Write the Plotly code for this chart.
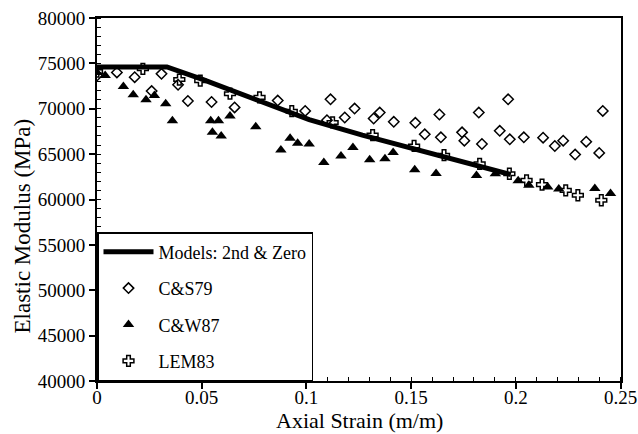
import plotly.graph_objects as go

# Model line: Models 2nd & Zero
model_x = [0.0, 0.0334, 0.0507, 0.076, 0.1013, 0.1267, 0.152, 0.1773, 0.1976]
model_y = [74600, 74600, 73200, 71000, 68800, 67100, 65500, 64000, 62750]

# C&S79 (open diamonds)
cs79_x = [0.0, 0.0095, 0.018, 0.0261, 0.0308, 0.0387, 0.0434, 0.0547, 0.0657, 0.0863,
          0.0994, 0.1098, 0.1115, 0.1183, 0.1230, 0.1321, 0.1350, 0.1417, 0.1520, 0.1565,
          0.1635, 0.1642, 0.1743, 0.1754, 0.1823, 0.1838, 0.1923, 0.1963, 0.1971, 0.2038,
          0.2130, 0.2186, 0.2226, 0.2283, 0.2336, 0.2398, 0.2415]
cs79_y = [73660, 74000, 73480, 71950, 73850, 72640, 70850, 70740, 70150, 70900,
          69760, 68740, 71040, 69040, 70020, 68930, 69580, 68560, 68450, 67180,
          69370, 66850, 67400, 66480, 69580, 66120, 67570, 71040, 66630, 66850,
          66810, 65900, 66480, 64950, 66370, 65130, 69760]

# C&W87 (filled triangles)
cw87_x = [0.0, 0.0039, 0.0126, 0.0173, 0.0234, 0.0274, 0.0328, 0.036, 0.0543, 0.0551,
          0.058, 0.0593, 0.0635, 0.0758, 0.0878, 0.0922, 0.0958, 0.1013, 0.1083, 0.1165,
          0.1222, 0.1302, 0.1375, 0.1414, 0.1517, 0.1619, 0.1812, 0.1902, 0.2011, 0.2062,
          0.2152, 0.2205, 0.2377, 0.2452]
cw87_y = [74000, 73660, 72460, 71550, 71000, 71470, 70560, 68670, 68670, 67400,
          68670, 67000, 69210, 68010, 65460, 66740, 66190, 66120, 64070, 64800,
          65720, 64370, 64480, 65170, 63280, 62870, 62650, 62840, 62070, 61560,
          61380, 61160, 61200, 60650]

# LEM83 (open crosses)
lem83_x = [0.0, 0.0219, 0.0393, 0.0493, 0.0635, 0.0776, 0.093, 0.1125, 0.1316, 0.1514,
           0.1657, 0.1827, 0.1969, 0.2051, 0.2125, 0.2238, 0.2296, 0.2408]
lem83_y = [74100, 74400, 73220, 73100, 71660, 71250, 69730, 68490, 67100, 65900,
           64880, 63930, 62840, 62110, 61640, 61010, 60470, 59920]

x_ticks = [0, 0.05, 0.1, 0.15, 0.2, 0.25]
x_ticktext = ["0", "0.05", "0.1", "0.15", "0.2", "0.25"]

FONT = "Liberation Serif, Times New Roman, serif"

fig = go.Figure()
fig.add_trace(go.Scatter(x=model_x, y=model_y, mode="lines",
                         name="Models: 2nd & Zero",
                         line=dict(color="black", width=5), legendgroup="a"))
fig.add_trace(go.Scatter(x=cs79_x, y=cs79_y, mode="markers", name="C&S79",
                         marker=dict(symbol="diamond-open", size=8, color="black",
                                     line=dict(width=1.5, color="black")), legendgroup="b"))
fig.add_trace(go.Scatter(x=cw87_x, y=cw87_y, mode="markers", name="C&W87",
                         marker=dict(symbol="triangle-up", size=10, color="black"),
                         legendgroup="c"))
fig.add_trace(go.Scatter(x=lem83_x, y=lem83_y, mode="markers", name="LEM83",
                         marker=dict(symbol="cross-open", size=9, color="black",
                                     line=dict(width=1.5, color="black")), legendgroup="d"))

axis_common = dict(showline=True, linecolor="black", linewidth=2, mirror=True,
                   showgrid=False, zeroline=False, ticks="outside", ticklen=6,
                   tickwidth=1.5, tickcolor="black", automargin=False,
                   tickfont=dict(family=FONT, size=19, color="black"))

fig.update_xaxes(range=[0, 0.2502], tickmode="array", tickvals=x_ticks, ticktext=x_ticktext,
                 ticklabelstandoff=-8,
                 minor=dict(dtick=0.01, ticks="inside", ticklen=4, tickcolor="black", tickwidth=1),
                 **axis_common)
fig.update_yaxes(range=[40000, 80000], dtick=5000, tickformat="d",
                 minor=dict(dtick=1000, ticks="inside", ticklen=4, tickcolor="black", tickwidth=1),
                 **axis_common)

title_font = dict(family=FONT, size=22, color="black")
fig.add_annotation(text="Axial Strain (m/m)", xref="paper", yref="paper",
                   x=0.5, y=0, yshift=-53, xanchor="center", yanchor="bottom",
                   showarrow=False, font=title_font, borderpad=0)
fig.add_annotation(text="Elastic Modulus (MPa)", xref="paper", yref="paper",
                   x=0, y=0.5, xshift=-75, yshift=-27, xanchor="center", yanchor="middle",
                   textangle=-90, showarrow=False, font=dict(family=FONT, size=23, color="black"))

fig.update_layout(
    width=638, height=434,
    margin=dict(l=97, r=17, t=18, b=53),
    plot_bgcolor="white", paper_bgcolor="white",
    font=dict(family=FONT, color="black"),
    legend=dict(x=0, y=0, xanchor="left", yanchor="bottom",
                bgcolor="white", bordercolor="black", borderwidth=1.5,
                font=dict(family=FONT, size=18, color="black"),
                traceorder="grouped", tracegroupgap=10, itemwidth=50),
)

fig.write_html("out.html")
